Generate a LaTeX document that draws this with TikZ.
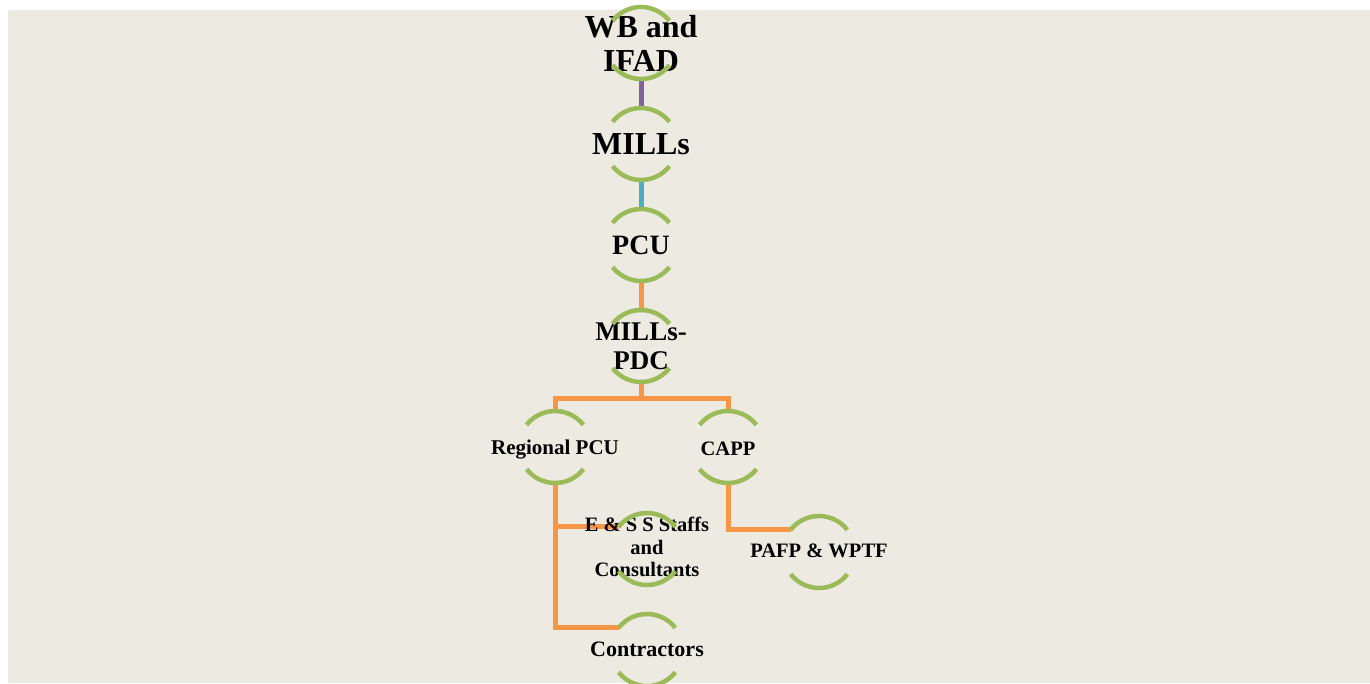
\documentclass[tikz,border=0pt]{standalone}
\usepackage{fontspec}
\setmainfont{Liberation Serif}
\usetikzlibrary{positioning,backgrounds}
\definecolor{paper}{HTML}{EDEBE1}
\definecolor{ringgreen}{HTML}{9BBB59}
\definecolor{linkpurple}{HTML}{8064A2}
\definecolor{linkblue}{HTML}{4BACC6}
\definecolor{linkorange}{HTML}{F79646}
\tikzset{unit/.style={align=center,inner sep=0pt}}
\tikzset{ring/.style={ringgreen,line width=4.5pt}}
\tikzset{link/.style={line width=5pt}}
\newcommand\fsz[2]{\bfseries\fontsize{#1}{#2}\selectfont}

\begin{document}
\begin{tikzpicture}[x=1pt,y=1pt,node distance=101pt,on grid]
        \useasboundingbox (0,0) rectangle (1370,-683);
        \node(wb)[unit,font=\fsz{32}{34}] at (641,-43) {WB and\\IFAD};
        \node(mills)[unit,font=\fsz{32}{34},below=of wb]{MILLs};
        \node(pcu)[unit,font=\fsz{28}{30},below=of mills]{PCU};
        \node(pdc)[unit,font=\fsz{27}{29},below=of pcu]{MILLs-\\PDC};
        \node(rpcu)[unit,font=\fsz{21}{22},below left=101pt and 86pt of pdc,yshift=-3pt]{Regional PCU};
        \node(capp)[unit,font=\fsz{20.5}{22},below right=101pt and 87pt of pdc,yshift=-2pt]{CAPP};
        \node(ess)[unit,font=\fsz{20.5}{22.5},below right=101pt and 92pt of rpcu,yshift=4pt]{E \& S S Staffs\\and\\Consultants};
        \node(pafp)[unit,font=\fsz{20.5}{22},below right=103pt and 91pt of capp,yshift=1pt]{PAFP \& WPTF};
        \node(contr)[unit,font=\fsz{22}{22},below=of ess,yshift=-1pt]{Contractors};
        % rings
        \foreach \n/\dy in {wb/0,mills/0,pcu/0,pdc/0,rpcu/3,capp/2,ess/-2,pafp/-1,contr/-1} {
          \draw[ring] ([shift={(38:36pt)},yshift=\dy pt]\n.center) arc (38:142:36pt);
          \draw[ring] ([shift={(218:36pt)},yshift=\dy pt]\n.center) arc (218:322:36pt);
        }
        \begin{pgfonlayer}{background}
        \fill[paper] (8,-10) rectangle (1370,-683);
        \draw[link,linkpurple] ([yshift=-36pt]wb.center) -- ([yshift=36pt]mills.center);
        \draw[link,linkblue] ([yshift=-36pt]mills.center) -- ([yshift=36pt]pcu.center);
        \begin{scope}[link,linkorange]
          \draw ([yshift=-36pt]pcu.center) -- ([yshift=36pt]pdc.center);
          \draw ([yshift=-36pt]pdc.center) -- ([yshift=-52pt]pdc.center);
          \draw ([yshift=39pt]rpcu.center) |- ([yshift=-52pt]pdc.center)
            -| ([yshift=38pt]capp.center);
          \draw ([yshift=-33pt]rpcu.center) |- ([shift={(142:36pt)},yshift=-1pt]contr.center);
          \draw ([yshift=-33pt]rpcu.center) |- ([shift={(142:36pt)},yshift=-2pt]ess.center);
          \draw ([yshift=-34pt]capp.center) |- ([shift={(142:36pt)},yshift=-1pt]pafp.center);
        \end{scope}
        \end{pgfonlayer}
\end{tikzpicture}
\end{document}
